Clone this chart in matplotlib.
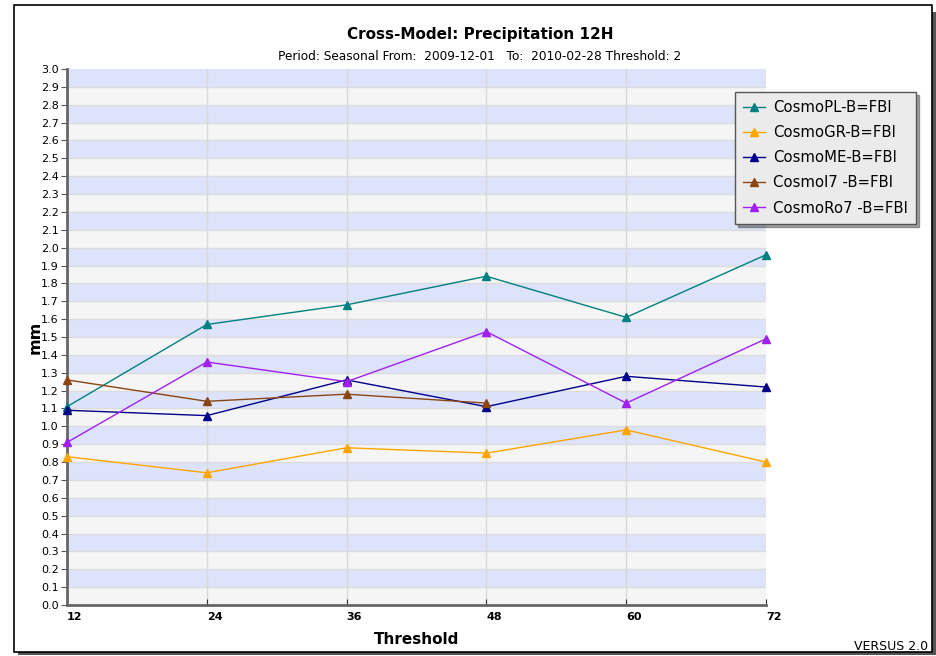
import matplotlib
matplotlib.use("Agg")
import matplotlib.pyplot as plt
from matplotlib.patches import Rectangle

thresholds = [12, 24, 36, 48, 60, 72]
cosmo_pl = [1.11, 1.57, 1.68, 1.84, 1.61, 1.96]
cosmo_gr = [0.83, 0.74, 0.88, 0.85, 0.98, 0.80]
cosmo_me = [1.09, 1.06, 1.26, 1.11, 1.28, 1.22]
cosmo_i7 = [1.26, 1.14, 1.18, 1.13]
cosmo_ro7 = [0.91, 1.36, 1.25, 1.53, 1.13, 1.49]

series_names = ["CosmoPL-B=FBI", "CosmoGR-B=FBI", "CosmoME-B=FBI",
                "Cosmol7 -B=FBI", "CosmoRo7 -B=FBI"]
series_colors = ["#008080", "#ffa500", "#00008b", "#8b4513", "#a020f0"]
series_values = [cosmo_pl, cosmo_gr, cosmo_me, cosmo_i7, cosmo_ro7]

W, H = 937, 656
fig = plt.figure(figsize=(W / 100, H / 100), dpi=100)
fig.patch.set_facecolor("white")

# outer frame with shadow
fig.patches.append(Rectangle((18 / W, 1 - 655 / H), (932 - 14) / W, (652 - 9) / H,
                             transform=fig.transFigure, facecolor="#555555",
                             edgecolor="none", zorder=-2))
fig.patches.append(Rectangle((14 / W, 1 - 652 / H), (932 - 14) / W, (652 - 5) / H,
                             transform=fig.transFigure, facecolor="white",
                             edgecolor="black", linewidth=1.2, zorder=-1))

ax = fig.add_axes([67 / W, (H - 605) / H, (766 - 67) / W, (605 - 69) / H])
ax.set_zorder(1)
ax.set_xlim(12, 72)
ax.set_ylim(0, 3.0)
ax.set_facecolor("#f5f5f5")

for i in range(30):
    c = "#dde3fa" if i % 2 == 1 else "#f5f5f5"
    ax.axhspan(i / 10, (i + 1) / 10, color=c, zorder=0, linewidth=0)
for i in range(1, 30):
    ax.axhline(i / 10, color="#dcdcdc", linewidth=1, zorder=0.5)
for x in thresholds[1:-1]:
    ax.axvline(x, color="#d8d8d8", linewidth=1, zorder=0.5)

for name, col, vals in zip(series_names, series_colors, series_values):
    ax.plot(thresholds[:len(vals)], vals, color=col, marker="^", markersize=6,
            linewidth=1, label=name, clip_on=False, zorder=3)

ax.set_xticks(thresholds)
ax.set_xticklabels([str(t) for t in thresholds], fontweight="bold", fontsize=8, ha="left")
ax.set_yticks([i / 10 for i in range(31)])
ax.set_yticklabels([f"{i/10:.1f}" for i in range(31)], fontsize=8)
ax.tick_params(axis="y", direction="out", length=4, color="#555555", pad=2)
ax.tick_params(axis="x", direction="in", length=4, color="#333333", pad=5)
for s in ["top", "right"]:
    ax.spines[s].set_visible(False)
for s in ["left", "bottom"]:
    ax.spines[s].set_color("#666666")
    ax.spines[s].set_linewidth(2)

fig.text(480 / W, 1 - 35 / H, "Cross-Model: Precipitation 12H", ha="center",
         va="center", fontsize=11, fontweight="bold")
fig.text(480 / W, 1 - 56 / H, "Period: Seasonal From:  2009-12-01   To:  2010-02-28 Threshold: 2",
         ha="center", va="center", fontsize=8.7)
fig.text(416.5 / W, 1 - 640 / H, "Threshold", ha="center", va="center",
         fontsize=11, fontweight="bold")
fig.text(35 / W, 1 - 337 / H, "mm", ha="center", va="center", rotation=90,
         fontsize=11.5, fontweight="bold")
fig.text(928 / W, 1 - 646 / H, "VERSUS 2.0", ha="right", va="center", fontsize=9)

leg = ax.legend(loc="upper left", bbox_to_anchor=(735 / W, 1 - 92 / H),
                bbox_transform=fig.transFigure, fontsize=10.7, frameon=True,
                fancybox=False, shadow=True, framealpha=1, facecolor="#ebebeb",
                edgecolor="#555555", borderaxespad=0, handlelength=1.5,
                handletextpad=0.5, labelspacing=0.68, borderpad=0.55)
leg.get_frame().set_linewidth(1)

fig.savefig("out.png", dpi=100)
